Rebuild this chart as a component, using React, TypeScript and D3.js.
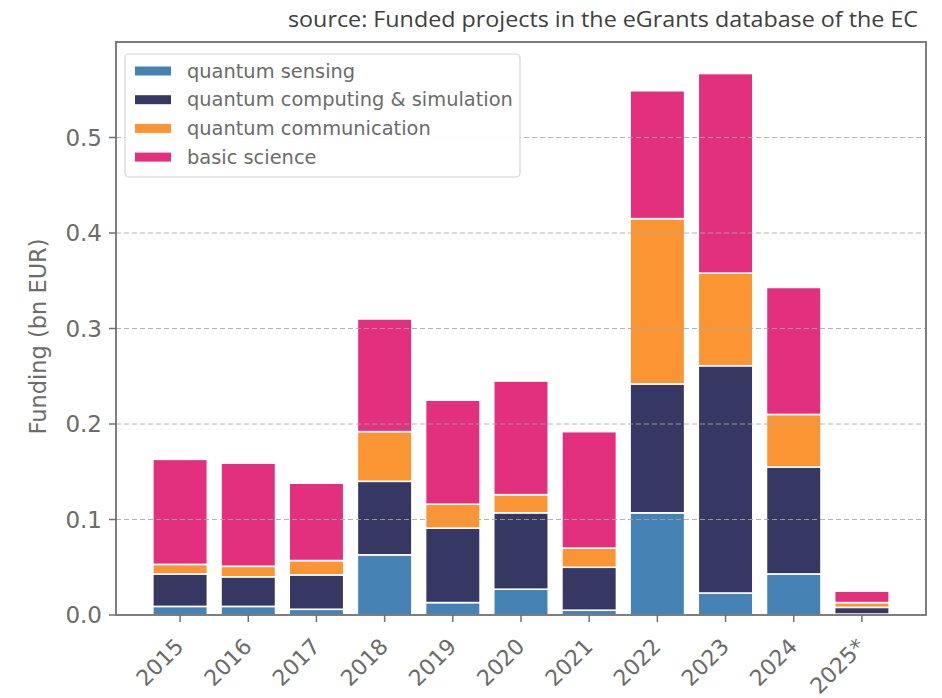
import React from 'react';
import * as d3 from 'd3';

const years = ['2015', '2016', '2017', '2018', '2019', '2020', '2021', '2022', '2023', '2024', '2025*'];
const sensing = [0.009, 0.009, 0.006, 0.063, 0.013, 0.027, 0.005, 0.107, 0.023, 0.043, 0.001];
const computing = [0.034, 0.031, 0.036, 0.077, 0.078, 0.080, 0.045, 0.135, 0.238, 0.112, 0.007];
const communication = [0.010, 0.011, 0.015, 0.052, 0.025, 0.019, 0.020, 0.173, 0.097, 0.055, 0.005];
const basic = [0.110, 0.108, 0.081, 0.118, 0.109, 0.119, 0.122, 0.134, 0.209, 0.133, 0.012];

const seriesNames = ['quantum sensing', 'quantum computing & simulation', 'quantum communication', 'basic science'];
const seriesColors = ['#4682b4', '#363762', '#fb9533', '#e2307f'];
const yTicks = [0, 0.1, 0.2, 0.3, 0.4, 0.5];

const W = 942, H = 698;
const left = 116, right = 926, top = 42, bottom = 615;
const font = 'DejaVu Sans, sans-serif';
const grey = '#6b6b6b';

export default function App() {
  const x = d3.scaleLinear().domain([-0.94, years.length - 1 + 0.94]).range([left, right]);
  const y = d3.scaleLinear().domain([0, 0.6]).range([bottom, top]);
  const bw = x(0.8) - x(0);

  const rows = years.map((yr, i) => ({
    year: yr,
    s0: sensing[i], s1: computing[i], s2: communication[i], s3: basic[i],
  }));
  const stack = d3.stack<any>().keys(['s0', 's1', 's2', 's3'])(rows);

  return (
    <svg width={W} height={H} style={{ position: 'absolute', left: 0, top: 0, background: '#fff' }}>
      <text x={918} y={27} textAnchor="end" fontFamily="Liberation Sans Narrow, Open Sans, sans-serif" fontSize={22}
        fill="#404040" textLength={630} lengthAdjust="spacingAndGlyphs">
        source: Funded projects in the eGrants database of the EC
      </text>

      {/* bars */}
      {stack.map((layer, k) => (
        <g key={k} fill={seriesColors[k]}>
          {layer.map((d, i) => (
            <rect key={i}
              x={x(i) - bw / 2}
              y={y(d[1])}
              width={bw}
              height={Math.max(0, y(d[0]) - y(d[1]))}
              stroke="#fff" strokeWidth={1.6} />
          ))}
        </g>
      ))}

      {/* grid */}
      {yTicks.filter(t => t > 0).map(t => (
        <line key={t} x1={left} x2={right} y1={y(t)} y2={y(t)}
          stroke="#a8a8a8" strokeDasharray="5,3" strokeWidth={1} opacity={0.85} />
      ))}

      {/* frame */}
      <rect x={left} y={top} width={right - left} height={bottom - top} fill="none" stroke="#707070" strokeWidth={1.8} />

      {/* y axis */}
      {yTicks.map(t => (
        <g key={t}>
          <line x1={left - 7} x2={left} y1={y(t)} y2={y(t)} stroke="#707070" strokeWidth={1.5} />
          <text x={left - 14} y={y(t)} dy="0.36em" textAnchor="end" fontFamily={font} fontSize={23} fill={grey}>
            {t.toFixed(1)}
          </text>
        </g>
      ))}
      <text transform={`translate(46,${(top + bottom) / 2 + 8}) rotate(-90)`} textAnchor="middle"
        fontFamily={font} fontSize={22.5} fill={grey}>Funding (bn EUR)</text>

      {/* x axis */}
      {years.map((yr, i) => (
        <g key={yr}>
          <line x1={x(i)} x2={x(i)} y1={bottom} y2={bottom + 7} stroke="#707070" strokeWidth={1.5} />
          <text transform={`translate(${x(i) - 6},${bottom + 22}) rotate(-45)`} textAnchor="end" dy="0.7em"
            fontFamily={font} fontSize={22} fill={grey}>{yr}</text>
        </g>
      ))}

      {/* legend */}
      <rect x={125} y={54} width={395} height={123} rx={4} fill="#fff" fillOpacity={0.9} stroke="#d4d4d4" strokeWidth={1.2} />
      {seriesNames.map((n, k) => (
        <g key={n} transform={`translate(135,${71 + k * 28.7})`}>
          <rect x={0} y={-4.5} width={36} height={9} fill={seriesColors[k]} />
          <text x={52} y={0} dy="0.35em" fontFamily={font} fontSize={19.4} fill={grey}>{n}</text>
        </g>
      ))}
    </svg>
  );
}
